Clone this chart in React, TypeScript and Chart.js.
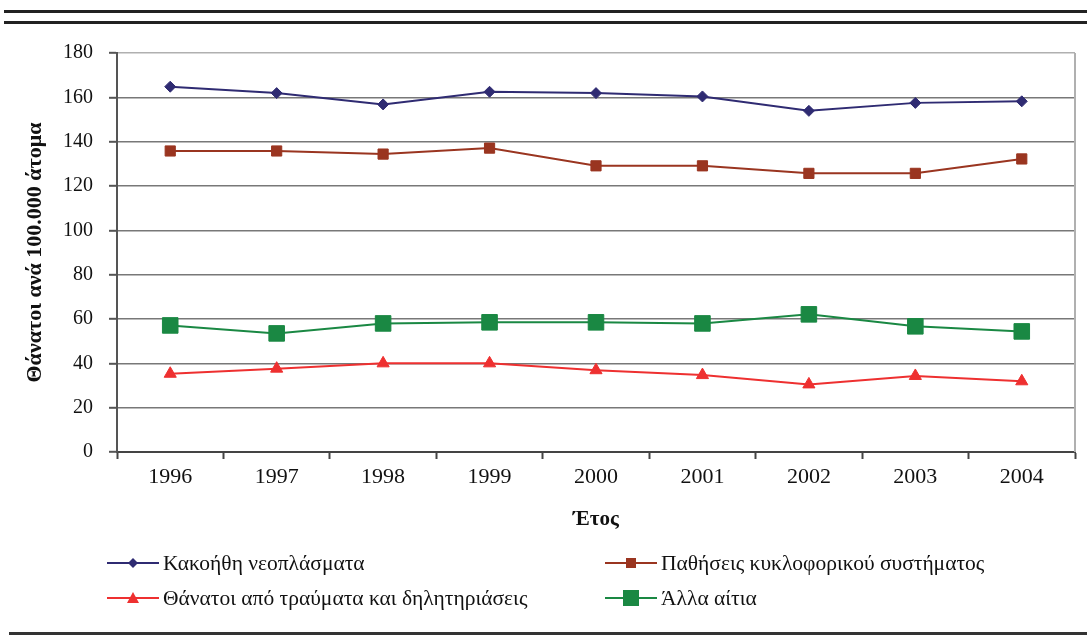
import React, { useEffect, useRef } from "react";
import { Chart, registerables } from "chart.js";

Chart.register(...registerables);

// ---- Data ----
const years = ["1996", "1997", "1998", "1999", "2000", "2001", "2002", "2003", "2004"];
const malignant = [164.8, 161.9, 156.8, 162.5, 161.9, 160.4, 153.9, 157.5, 158.2];
const circulatory = [135.8, 135.8, 134.4, 137.1, 129.1, 129.1, 125.7, 125.7, 132.2];
const injuries = [35.3, 37.6, 40, 40, 36.9, 34.7, 30.5, 34.3, 31.9];
const otherCauses = [57.1, 53.5, 58.0, 58.5, 58.5, 58.0, 62.1, 56.7, 54.4];
const seriesLabels = [
  "Κακοήθη νεοπλάσματα",
  "Παθήσεις κυκλοφορικού συστήματος",
  "Θάνατοι από τραύματα και δηλητηριάσεις",
  "Άλλα αίτια",
];
const yTitle = "Θάνατοι ανά 100.000 άτομα";
const xTitle = "Έτος";
const yMin = 0;
const yMax = 180;
const yStep = 20;

const FONT = "'Liberation Serif', 'Times New Roman', serif";

const COLORS = {
  blue: "#2f2b72",
  brown: "#9a3520",
  red: "#ee3030",
  green: "#1a8843",
};

const frameRight = {
  id: "frameRight",
  beforeDatasetsDraw(chart: any) {
    const { ctx, chartArea } = chart;
    ctx.save();
    ctx.strokeStyle = "#b0b0b0";
    ctx.lineWidth = 2;
    ctx.beginPath();
    ctx.moveTo(chartArea.right, chartArea.top);
    ctx.lineTo(chartArea.right, chartArea.bottom);
    ctx.stroke();
    ctx.restore();
  },
};

function LegendMarker({ kind, color }: { kind: string; color: string }) {
  let marker: any = null;
  if (kind === "diamond") marker = <polygon points="26,3 31,8 26,13 21,8" fill={color} />;
  if (kind === "smallSquare") marker = <rect x={21} y={3} width={10} height={10} fill={color} />;
  if (kind === "triangle") marker = <polygon points="26,2 32,13 20,13" fill={color} />;
  if (kind === "bigSquare") marker = <rect x={18} y={0} width={16} height={16} fill={color} />;
  return (
    <svg width={52} height={16} style={{ display: "block" }}>
      <line x1={0} y1={8} x2={52} y2={8} stroke={color} strokeWidth={2} />
      {marker}
    </svg>
  );
}

export default function App() {
  const canvasRef = useRef<HTMLCanvasElement | null>(null);

  useEffect(() => {
    const canvas = canvasRef.current;
    if (!canvas) return;
    const chart = new Chart(canvas, {
      type: "line",
      data: {
        labels: years,
        datasets: [
          {
            label: seriesLabels[0],
            data: malignant,
            borderColor: COLORS.blue,
            backgroundColor: COLORS.blue,
            pointBackgroundColor: COLORS.blue,
            pointBorderColor: COLORS.blue,
            pointStyle: "rectRot",
            pointRadius: 5.5,
            pointBorderWidth: 1,
            borderWidth: 2,
            tension: 0,
          },
          {
            label: seriesLabels[1],
            data: circulatory,
            borderColor: COLORS.brown,
            backgroundColor: COLORS.brown,
            pointBackgroundColor: COLORS.brown,
            pointBorderColor: COLORS.brown,
            pointStyle: "rect",
            pointRadius: 7.2,
            pointBorderWidth: 1,
            borderWidth: 2,
            tension: 0,
          },
          {
            label: seriesLabels[2],
            data: injuries,
            borderColor: COLORS.red,
            backgroundColor: COLORS.red,
            pointBackgroundColor: COLORS.red,
            pointBorderColor: COLORS.red,
            pointStyle: "triangle",
            pointRadius: 7,
            pointBorderWidth: 1,
            borderWidth: 2,
            tension: 0,
          },
          {
            label: seriesLabels[3],
            data: otherCauses,
            borderColor: COLORS.green,
            backgroundColor: COLORS.green,
            pointBackgroundColor: COLORS.green,
            pointBorderColor: COLORS.green,
            pointStyle: "rect",
            pointRadius: 11,
            pointBorderWidth: 1,
            borderWidth: 2,
            tension: 0,
          },
        ],
      },
      options: {
        animation: false,
        responsive: false,
        devicePixelRatio: 1,
        layout: { padding: { top: 53, right: 11, bottom: 106, left: 18 } },
        plugins: { legend: { display: false }, tooltip: { enabled: false } },
        scales: {
          x: {
            offset: true,
            grid: {
              offset: true,
              drawOnChartArea: false,
              tickLength: 7,
              tickColor: "#444",
              tickWidth: 2,
            },
            border: { color: "#444", width: 2 },
            ticks: {
              color: "#111",
              font: { family: FONT, size: 22 },
              padding: 5,
              maxRotation: 0,
            },
            title: {
              display: true,
              text: xTitle,
              color: "#111",
              font: { family: FONT, size: 21, weight: "bold" },
              padding: { top: 0, bottom: 5 },
            },
            afterFit: (s: any) => {
              s.height = 85;
            },
          },
          y: {
            min: yMin,
            max: yMax,
            ticks: {
              stepSize: yStep,
              color: "#111",
              font: { family: FONT, size: 20 },
              padding: 16,
            },
            grid: {
              color: (ctx: any) => (ctx.tick && ctx.tick.value === yMax ? "#b0b0b0" : "#787878"),
              lineWidth: 1.6,
              tickLength: 8,
              tickColor: "#555",
              tickWidth: 2,
            },
            border: { color: "#555", width: 2 },
            title: {
              display: true,
              text: yTitle,
              color: "#111",
              font: { family: FONT, size: 22, weight: "bold" },
              padding: { top: 4, bottom: 0 },
            },
            afterFit: (s: any) => {
              s.width = 99;
            },
          },
        },
      } as any,
      plugins: [frameRight],
    });
    return () => chart.destroy();
  }, []);

  const legendItems = [
    { kind: "diamond", color: COLORS.blue, label: seriesLabels[0], left: 107, top: 555 },
    { kind: "smallSquare", color: COLORS.brown, label: seriesLabels[1], left: 605, top: 555 },
    { kind: "triangle", color: COLORS.red, label: seriesLabels[2], left: 107, top: 590 },
    { kind: "bigSquare", color: COLORS.green, label: seriesLabels[3], left: 605, top: 590 },
  ];

  return (
    <div
      style={{
        position: "absolute",
        left: 0,
        top: 0,
        width: 1087,
        height: 643,
        background: "#fff",
        overflow: "hidden",
      }}
    >
      <div style={{ position: "absolute", left: 4, top: 10, width: 1083, height: 3, background: "#222" }} />
      <div style={{ position: "absolute", left: 4, top: 21, width: 1083, height: 3, background: "#222" }} />
      <canvas
        ref={canvasRef}
        width={1087}
        height={643}
        style={{ position: "absolute", left: 0, top: 0, width: 1087, height: 643 }}
      />
      {legendItems.map((it, i) => (
        <div
          key={i}
          style={{
            position: "absolute",
            left: it.left,
            top: it.top,
            display: "flex",
            alignItems: "center",
            height: 16,
            whiteSpace: "nowrap",
          }}
        >
          <LegendMarker kind={it.kind} color={it.color} />
          <span
            style={{
              fontFamily: FONT,
              fontSize: 21.5,
              color: "#111",
              marginLeft: 4,
              lineHeight: "16px",
            }}
          >
            {it.label}
          </span>
        </div>
      ))}
      <div style={{ position: "absolute", left: 9, top: 632, width: 1078, height: 3, background: "#333" }} />
    </div>
  );
}
